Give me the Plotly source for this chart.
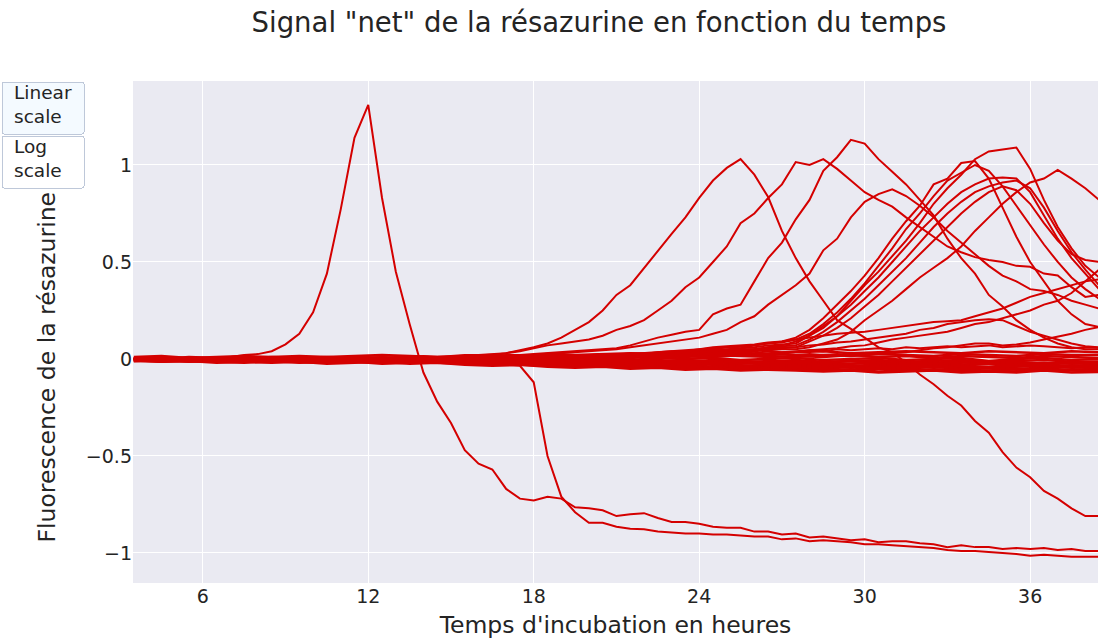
import plotly.graph_objects as go

# ---------------- time grids (hours) ----------------
TIME_FINE = [3.5, 4.0, 4.5, 5.0, 5.5, 6.0, 6.5, 7.0, 7.5, 8.0, 8.5, 9.0,
             9.5, 10.0, 10.5, 11.0, 11.5, 12.0, 12.5, 13.0, 13.5, 14.0, 14.5, 15.0,
             15.5, 16.0, 16.5, 17.0, 17.5, 18.0, 18.5, 19.0, 19.5, 20.0, 20.5, 21.0,
             21.5, 22.0, 22.5, 23.0, 23.5, 24.0, 24.5, 25.0, 25.5, 26.0, 26.5, 27.0,
             27.5, 28.0, 28.5, 29.0, 29.5, 30.0, 30.5, 31.0, 31.5, 32.0, 32.5, 33.0,
             33.5, 34.0, 34.5, 35.0, 35.5, 36.0, 36.5, 37.0, 37.5, 38.0, 38.5, 39.0]

TIME_COARSE = [3.5, 4.5, 5.5, 6.5, 7.5, 8.5, 9.5, 10.5, 11.5, 12.5, 13.5, 14.5,
               15.5, 16.5, 17.5, 18.5, 19.5, 20.5, 21.5, 22.5, 23.5, 24.5, 25.5, 26.5,
               27.5, 28.5, 29.5, 30.5, 31.5, 32.5, 33.5, 34.5, 35.5, 36.5, 37.5, 38.5,
               39.5]

# ---------------- wells with a visible signal (fine grid) ----------------
WELL_A = [0.0, 0.005, 0.0, -0.005, -0.005, 0.0, 0.005, 0.01, 0.02, 0.025, 0.04, 0.075,
          0.13, 0.24, 0.44, 0.77, 1.14, 1.31, 0.83, 0.45, 0.18, -0.07, -0.22, -0.33,
          -0.47, -0.54, -0.57, -0.67, -0.72, -0.73, -0.71, -0.72, -0.765, -0.77, -0.78, -0.81,
          -0.80, -0.795, -0.82, -0.84, -0.84, -0.85, -0.865, -0.87, -0.87, -0.89, -0.89, -0.905,
          -0.90, -0.92, -0.915, -0.925, -0.935, -0.93, -0.945, -0.94, -0.94, -0.95, -0.955, -0.97,
          -0.96, -0.97, -0.97, -0.98, -0.975, -0.98, -0.975, -0.985, -0.98, -0.99, -0.99, -0.99]

WELL_B = [0.0, -0.005, 0.0, 0.0, -0.01, -0.005, 0.0, -0.005, 0.0, -0.01, -0.005, 0.0,
          -0.005, -0.01, 0.0, -0.005, -0.01, 0.0, -0.005, -0.01, -0.005, -0.01, -0.015, -0.01,
          -0.015, -0.02, -0.02, -0.03, -0.035, -0.12, -0.50, -0.71, -0.79, -0.845, -0.845, -0.865,
          -0.875, -0.878, -0.89, -0.895, -0.90, -0.90, -0.905, -0.905, -0.91, -0.915, -0.915, -0.93,
          -0.925, -0.94, -0.935, -0.94, -0.945, -0.955, -0.955, -0.96, -0.965, -0.97, -0.975, -0.985,
          -0.99, -0.99, -0.995, -1.0, -1.005, -1.015, -1.01, -1.015, -1.02, -1.02, -1.02, -1.025]

WELL_C = [0.0, 0.0, -0.005, 0.005, 0.0, 0.0, -0.005, 0.0, 0.005, 0.0, 0.0, 0.005,
          0.0, 0.005, 0.0, 0.005, 0.01, 0.005, 0.01, 0.005, 0.01, 0.015, 0.01, 0.015,
          0.02, 0.02, 0.025, 0.03, 0.045, 0.06, 0.08, 0.11, 0.15, 0.19, 0.25, 0.33,
          0.38, 0.47, 0.56, 0.645, 0.73, 0.83, 0.92, 0.985, 1.03, 0.95, 0.835, 0.66,
          0.52, 0.40, 0.30, 0.20, 0.155, 0.11, 0.06, 0.035, -0.02, -0.08, -0.13, -0.19,
          -0.24, -0.32, -0.38, -0.48, -0.56, -0.61, -0.68, -0.72, -0.77, -0.81, -0.81, -0.82]

WELL_D = [0.0, 0.005, 0.0, 0.0, 0.005, -0.005, 0.0, 0.005, 0.0, 0.005, 0.0, 0.0,
          0.005, 0.0, 0.005, 0.01, 0.005, 0.0, 0.005, 0.01, 0.005, 0.01, 0.005, 0.01,
          0.01, 0.015, 0.02, 0.03, 0.04, 0.055, 0.07, 0.08, 0.09, 0.10, 0.12, 0.15,
          0.17, 0.20, 0.25, 0.30, 0.37, 0.42, 0.50, 0.58, 0.70, 0.75, 0.83, 0.90,
          1.015, 1.00, 1.03, 0.98, 0.92, 0.86, 0.82, 0.785, 0.73, 0.68, 0.63, 0.58,
          0.55, 0.525, 0.51, 0.50, 0.48, 0.475, 0.44, 0.43, 0.37, 0.32, 0.33, 0.31]

WELL_F = [0.0, 0.0, 0.005, 0.0, -0.005, 0.0, 0.005, 0.0, 0.0, 0.005, 0.0, 0.005,
          0.0, 0.005, 0.0, 0.005, 0.0, 0.005, 0.01, 0.005, 0.0, 0.01, 0.005, 0.01,
          0.01, 0.015, 0.01, 0.02, 0.02, 0.025, 0.03, 0.035, 0.04, 0.045, 0.05, 0.055,
          0.07, 0.09, 0.11, 0.125, 0.14, 0.15, 0.23, 0.26, 0.28, 0.40, 0.52, 0.60,
          0.72, 0.82, 0.97, 1.04, 1.13, 1.11, 1.03, 0.965, 0.90, 0.82, 0.74, 0.62,
          0.52, 0.44, 0.33, 0.27, 0.20, 0.15, 0.11, 0.08, 0.06, 0.05, 0.05, 0.04]

WELL_G = [0.005, 0.0, 0.0, 0.005, 0.0, 0.0, -0.005, 0.0, 0.005, 0.0, 0.005, 0.0,
          0.005, 0.0, 0.005, 0.0, 0.005, 0.01, 0.005, 0.0, 0.005, 0.01, 0.005, 0.01,
          0.0, 0.005, 0.01, 0.01, 0.015, 0.02, 0.025, 0.03, 0.035, 0.04, 0.045, 0.05,
          0.06, 0.07, 0.08, 0.09, 0.10, 0.11, 0.13, 0.15, 0.19, 0.22, 0.28, 0.33,
          0.38, 0.44, 0.56, 0.62, 0.73, 0.81, 0.85, 0.875, 0.84, 0.79, 0.73, 0.66,
          0.60, 0.54, 0.48, 0.43, 0.40, 0.36, 0.35, 0.33, 0.30, 0.28, 0.26, 0.25]

WELL_L1 = [0.0, 0.005, 0.0, -0.005, 0.0, 0.005, 0.0, 0.0, -0.005, 0.0, 0.005, 0.0,
           0.0, -0.005, 0.0, 0.005, 0.0, -0.005, 0.0, 0.005, 0.0, 0.0, 0.005, 0.0,
           0.005, 0.0, 0.005, 0.01, 0.005, 0.01, 0.015, 0.01, 0.015, 0.02, 0.015, 0.02,
           0.02, 0.025, 0.02, 0.03, 0.025, 0.035, 0.04, 0.035, 0.045, 0.05, 0.06, 0.07,
           0.09, 0.12, 0.17, 0.22, 0.30, 0.38, 0.45, 0.53, 0.61, 0.70, 0.80, 0.88,
           0.95, 1.03, 1.07, 1.08, 1.09, 0.98, 0.82, 0.68, 0.57, 0.48, 0.42, 0.38]

WELL_L2 = [0.005, 0.0, 0.0, 0.005, 0.0, -0.005, 0.0, 0.005, 0.0, 0.0, -0.005, 0.0,
           0.005, 0.0, 0.0, -0.005, 0.005, 0.0, 0.0, 0.005, 0.0, 0.005, 0.0, 0.005,
           0.0, 0.005, 0.01, 0.005, 0.01, 0.015, 0.01, 0.02, 0.015, 0.02, 0.025, 0.02,
           0.03, 0.025, 0.035, 0.04, 0.035, 0.045, 0.05, 0.06, 0.055, 0.07, 0.08, 0.09,
           0.11, 0.15, 0.21, 0.28, 0.35, 0.43, 0.52, 0.62, 0.71, 0.79, 0.90, 0.93,
           1.01, 1.02, 0.93, 0.78, 0.63, 0.50, 0.40, 0.30, 0.23, 0.18, 0.165, 0.15]

WELL_L3 = [0.0, -0.005, 0.0, 0.0, 0.005, 0.0, -0.005, 0.0, 0.005, 0.0, 0.0, -0.005,
           0.0, 0.005, 0.0, 0.0, -0.005, 0.0, 0.005, 0.0, -0.005, 0.005, 0.0, 0.005,
           0.005, 0.01, 0.005, 0.01, 0.015, 0.01, 0.015, 0.02, 0.015, 0.02, 0.02, 0.025,
           0.025, 0.03, 0.03, 0.035, 0.04, 0.04, 0.045, 0.05, 0.055, 0.06, 0.07, 0.075,
           0.08, 0.12, 0.16, 0.22, 0.28, 0.35, 0.42, 0.50, 0.58, 0.66, 0.73, 0.80,
           0.86, 0.90, 0.93, 0.935, 0.93, 0.86, 0.74, 0.62, 0.52, 0.44, 0.36, 0.31]

WELL_L4 = [-0.005, 0.0, 0.005, 0.0, -0.005, 0.0, 0.005, 0.0, -0.005, 0.0, 0.0, 0.005,
           0.0, -0.005, 0.0, 0.005, 0.0, 0.0, -0.005, 0.0, 0.005, 0.0, -0.005, 0.0,
           0.005, 0.0, 0.005, 0.01, 0.005, 0.01, 0.01, 0.015, 0.01, 0.015, 0.02, 0.015,
           0.02, 0.025, 0.03, 0.025, 0.035, 0.04, 0.035, 0.045, 0.05, 0.05, 0.06, 0.065,
           0.07, 0.10, 0.14, 0.19, 0.25, 0.31, 0.38, 0.45, 0.52, 0.60, 0.68, 0.75,
           0.81, 0.86, 0.89, 0.91, 0.92, 0.88, 0.78, 0.66, 0.55, 0.46, 0.38, 0.33]

WELL_L5 = [0.0, 0.0, 0.005, -0.005, 0.0, 0.005, 0.0, -0.005, 0.0, 0.005, 0.0, 0.0,
           -0.005, 0.0, 0.005, 0.0, 0.0, 0.005, 0.0, -0.005, 0.0, 0.005, 0.0, 0.005,
           0.0, 0.005, 0.0, 0.005, 0.01, 0.005, 0.01, 0.01, 0.015, 0.01, 0.015, 0.015,
           0.015, 0.02, 0.025, 0.03, 0.03, 0.035, 0.04, 0.04, 0.045, 0.05, 0.055, 0.06,
           0.06, 0.09, 0.12, 0.16, 0.21, 0.27, 0.33, 0.40, 0.47, 0.54, 0.61, 0.68,
           0.75, 0.81, 0.86, 0.89, 0.87, 0.80, 0.70, 0.61, 0.54, 0.51, 0.50, 0.49]

WELL_L6 = [0.005, 0.0, 0.0, 0.005, -0.005, 0.0, 0.0, 0.005, 0.0, -0.005, 0.0, 0.005,
           0.0, 0.0, 0.005, -0.005, 0.0, 0.005, 0.0, 0.0, 0.005, 0.0, 0.005, 0.01,
           0.005, 0.01, 0.005, 0.01, 0.015, 0.01, 0.015, 0.02, 0.02, 0.015, 0.02, 0.025,
           0.025, 0.03, 0.035, 0.04, 0.045, 0.05, 0.055, 0.06, 0.065, 0.07, 0.08, 0.085,
           0.10, 0.13, 0.18, 0.24, 0.31, 0.39, 0.48, 0.57, 0.67, 0.75, 0.84, 0.92,
           0.96, 1.00, 0.97, 0.89, 0.79, 0.69, 0.59, 0.50, 0.42, 0.36, 0.31, 0.28]

WELL_LL = [0.0, 0.005, -0.005, 0.0, 0.0, 0.005, 0.0, -0.005, 0.0, 0.0, 0.005, 0.0,
           0.005, 0.0, -0.005, 0.0, 0.005, 0.0, 0.0, 0.005, -0.005, 0.0, 0.005, 0.0,
           0.0, 0.005, 0.0, 0.005, 0.005, 0.01, 0.005, 0.01, 0.01, 0.005, 0.01, 0.01,
           0.01, 0.015, 0.02, 0.02, 0.025, 0.03, 0.03, 0.035, 0.04, 0.04, 0.045, 0.05,
           0.05, 0.06, 0.08, 0.10, 0.14, 0.20, 0.25, 0.30, 0.36, 0.42, 0.47, 0.52,
           0.58, 0.66, 0.73, 0.80, 0.86, 0.91, 0.93, 0.975, 0.93, 0.88, 0.82, 0.76]

WELL_M1 = [0.0, 0.0, 0.005, 0.0, -0.005, 0.0, 0.005, 0.0, 0.0, -0.005, 0.0, 0.005,
           0.0, 0.005, 0.0, -0.005, 0.0, 0.0, 0.005, 0.0, 0.0, 0.005, 0.0, 0.005,
           0.005, 0.0, 0.005, 0.005, 0.01, 0.005, 0.01, 0.005, 0.01, 0.01, 0.005, 0.01,
           0.01, 0.015, 0.01, 0.02, 0.015, 0.02, 0.025, 0.02, 0.025, 0.03, 0.03, 0.035,
           0.036, 0.045, 0.05, 0.055, 0.065, 0.07, 0.085, 0.10, 0.11, 0.12, 0.13, 0.14,
           0.16, 0.18, 0.19, 0.21, 0.23, 0.25, 0.28, 0.30, 0.34, 0.40, 0.46, 0.50]

WELL_M2 = [0.005, 0.0, 0.0, -0.005, 0.0, 0.005, 0.0, 0.0, 0.005, 0.0, -0.005, 0.0,
           0.005, 0.0, 0.0, 0.005, 0.0, -0.005, 0.0, 0.005, 0.0, 0.0, 0.005, 0.0,
           0.0, 0.005, 0.0, 0.005, 0.0, 0.005, 0.005, 0.0, 0.005, 0.01, 0.005, 0.005,
           0.005, 0.01, 0.005, 0.01, 0.015, 0.01, 0.015, 0.02, 0.015, 0.02, 0.02, 0.025,
           0.02, 0.025, 0.02, 0.025, 0.02, 0.025, 0.025, 0.03, 0.035, 0.045, 0.055, 0.06,
           0.07, 0.08, 0.08, 0.07, 0.075, 0.085, 0.10, 0.115, 0.13, 0.15, 0.165, 0.18]

WELL_M3 = [0.0, 0.005, 0.0, 0.0, 0.005, 0.0, -0.005, 0.0, 0.0, 0.005, 0.0, -0.005,
           0.0, 0.0, 0.005, 0.0, -0.005, 0.0, 0.0, 0.005, 0.0, -0.005, 0.0, 0.005,
           0.0, 0.0, 0.005, 0.0, 0.005, 0.005, 0.01, 0.005, 0.005, 0.01, 0.005, 0.01,
           0.01, 0.015, 0.02, 0.02, 0.025, 0.03, 0.035, 0.04, 0.04, 0.045, 0.05, 0.055,
           0.06, 0.07, 0.075, 0.085, 0.09, 0.10, 0.11, 0.12, 0.13, 0.15, 0.16, 0.18,
           0.19, 0.20, 0.205, 0.20, 0.17, 0.14, 0.12, 0.10, 0.08, 0.065, 0.06, 0.055]

WELL_M4 = [0.0, 0.0, 0.005, 0.0, 0.0, -0.005, 0.0, 0.005, 0.0, 0.0, 0.005, 0.0,
           -0.005, 0.0, 0.005, 0.0, 0.005, 0.0, 0.0, 0.005, 0.0, 0.005, 0.0, 0.005,
           0.005, 0.01, 0.005, 0.01, 0.01, 0.015, 0.01, 0.015, 0.015, 0.01, 0.015, 0.02,
           0.02, 0.025, 0.03, 0.035, 0.04, 0.05, 0.06, 0.065, 0.07, 0.075, 0.085, 0.09,
           0.10, 0.11, 0.12, 0.13, 0.135, 0.14, 0.15, 0.16, 0.17, 0.18, 0.19, 0.195,
           0.20, 0.22, 0.24, 0.26, 0.29, 0.32, 0.34, 0.36, 0.38, 0.40, 0.41, 0.42]

WELL_M5 = [0.0, -0.005, 0.0, 0.005, 0.0, 0.0, 0.005, 0.0, -0.005, 0.0, 0.005, 0.0,
           0.0, 0.005, 0.0, 0.0, 0.005, 0.0, -0.005, 0.0, 0.005, 0.0, 0.0, 0.005,
           0.0, 0.005, 0.005, 0.0, 0.005, 0.01, 0.005, 0.01, 0.005, 0.01, 0.01, 0.005,
           0.01, 0.015, 0.02, 0.015, 0.02, 0.025, 0.03, 0.025, 0.035, 0.03, 0.04, 0.035,
           0.04, 0.045, 0.04, 0.05, 0.045, 0.05, 0.055, 0.05, 0.06, 0.055, 0.06, 0.065,
           0.06, 0.065, 0.07, 0.06, 0.065, 0.07, 0.065, 0.06, 0.055, 0.06, 0.057, 0.06]

# ---------------- wells without growth (coarse grid) ----------------
FLAT_01 = [0.01, 0.015, 0.005, 0.01, 0.015, 0.01, 0.015, 0.01, 0.015, 0.02, 0.015, 0.01,
           0.015, 0.02, 0.015, 0.025, 0.02, 0.025, 0.03, 0.025, 0.035, 0.04, 0.03, 0.025,
           0.035, 0.04, 0.03, 0.035, 0.04, 0.035, 0.03, 0.04, 0.035, 0.03, 0.04, 0.035, 0.03]
FLAT_02 = [0.0, 0.005, 0.0, -0.005, 0.005, 0.0, 0.005, 0.01, 0.005, 0.0, 0.005, 0.01,
           0.005, 0.0, 0.01, 0.005, 0.015, 0.01, 0.005, 0.015, 0.01, 0.02, 0.015, 0.01,
           0.015, 0.01, 0.02, 0.01, 0.015, 0.005, 0.015, 0.01, 0.005, 0.015, 0.01, 0.005, 0.01]
FLAT_03 = [0.0, -0.005, 0.005, 0.0, -0.005, 0.0, 0.005, 0.0, -0.005, 0.005, 0.0, -0.005,
           0.0, 0.005, -0.005, 0.0, 0.005, 0.0, -0.005, 0.005, 0.0, 0.005, -0.005, 0.0,
           0.005, -0.005, 0.0, 0.005, -0.005, 0.0, 0.005, -0.01, 0.0, 0.005, -0.005, 0.0, 0.0]
FLAT_04 = [-0.005, 0.0, -0.005, -0.01, 0.0, -0.005, 0.0, -0.005, -0.01, 0.0, -0.005, -0.01,
           -0.005, 0.0, -0.01, -0.005, -0.01, 0.0, -0.01, -0.005, -0.015, -0.005, -0.01, -0.015,
           -0.005, -0.015, -0.01, -0.005, -0.015, -0.01, -0.005, -0.015, -0.01, -0.005, -0.015, -0.01, -0.01]
FLAT_05 = [0.005, 0.0, 0.005, 0.0, -0.005, 0.005, 0.0, -0.005, 0.0, 0.005, -0.005, 0.0,
           -0.005, -0.01, 0.0, -0.005, -0.01, -0.005, -0.015, -0.01, -0.005, -0.015, -0.02, -0.01,
           -0.015, -0.02, -0.01, -0.02, -0.015, -0.02, -0.01, -0.02, -0.015, -0.025, -0.015, -0.02, -0.015]
FLAT_06 = [0.0, 0.005, -0.005, 0.0, 0.005, -0.005, 0.0, 0.005, -0.005, -0.01, 0.0, -0.005,
           -0.01, -0.005, -0.015, -0.01, -0.005, -0.015, -0.01, -0.02, -0.015, -0.01, -0.02, -0.025,
           -0.015, -0.02, -0.025, -0.015, -0.02, -0.025, -0.02, -0.015, -0.025, -0.02, -0.025, -0.02, -0.02]
FLAT_07 = [-0.005, -0.01, 0.0, -0.005, -0.01, -0.005, -0.01, 0.0, -0.005, -0.01, -0.015, -0.005,
           -0.01, -0.015, -0.005, -0.015, -0.02, -0.01, -0.02, -0.015, -0.025, -0.02, -0.015, -0.025,
           -0.02, -0.03, -0.025, -0.02, -0.03, -0.025, -0.03, -0.02, -0.03, -0.025, -0.02, -0.03, -0.025]
FLAT_08 = [0.0, -0.005, -0.01, -0.005, 0.0, -0.01, -0.005, -0.01, -0.015, -0.005, -0.01, -0.015,
           -0.01, -0.02, -0.015, -0.01, -0.02, -0.025, -0.015, -0.025, -0.02, -0.03, -0.025, -0.02,
           -0.03, -0.025, -0.035, -0.03, -0.025, -0.035, -0.03, -0.025, -0.035, -0.03, -0.035, -0.03, -0.03]
FLAT_09 = [-0.005, 0.0, -0.005, -0.01, -0.005, -0.01, -0.015, -0.005, -0.01, -0.015, -0.01, -0.005,
           -0.015, -0.01, -0.02, -0.015, -0.025, -0.02, -0.03, -0.025, -0.02, -0.03, -0.035, -0.03,
           -0.035, -0.03, -0.04, -0.035, -0.03, -0.04, -0.035, -0.04, -0.03, -0.04, -0.035, -0.04, -0.035]
FLAT_10 = [-0.01, -0.005, -0.01, -0.005, -0.01, -0.015, -0.01, -0.005, -0.015, -0.01, -0.015, -0.02,
           -0.015, -0.02, -0.015, -0.025, -0.02, -0.03, -0.025, -0.035, -0.03, -0.025, -0.035, -0.04,
           -0.035, -0.04, -0.045, -0.04, -0.035, -0.045, -0.04, -0.045, -0.04, -0.035, -0.045, -0.04, -0.04]
FLAT_11 = [0.0, -0.005, -0.01, -0.015, -0.01, -0.005, -0.015, -0.01, -0.015, -0.02, -0.015, -0.01,
           -0.02, -0.025, -0.02, -0.03, -0.025, -0.02, -0.03, -0.035, -0.03, -0.04, -0.035, -0.045,
           -0.04, -0.045, -0.04, -0.05, -0.045, -0.04, -0.05, -0.045, -0.05, -0.045, -0.04, -0.05, -0.045]
FLAT_12 = [-0.005, -0.01, -0.005, -0.015, -0.01, -0.015, -0.01, -0.02, -0.015, -0.01, -0.02, -0.015,
           -0.02, -0.025, -0.03, -0.025, -0.035, -0.03, -0.04, -0.035, -0.04, -0.045, -0.04, -0.05,
           -0.045, -0.05, -0.055, -0.045, -0.05, -0.055, -0.05, -0.045, -0.055, -0.05, -0.055, -0.05, -0.05]
FLAT_13 = [-0.01, -0.005, -0.015, -0.01, -0.015, -0.01, -0.02, -0.015, -0.01, -0.02, -0.015, -0.02,
           -0.025, -0.02, -0.03, -0.035, -0.03, -0.04, -0.035, -0.045, -0.04, -0.05, -0.045, -0.055,
           -0.05, -0.055, -0.06, -0.05, -0.055, -0.06, -0.055, -0.06, -0.05, -0.06, -0.055, -0.06, -0.055]
FLAT_14 = [-0.005, -0.015, -0.01, -0.015, -0.02, -0.01, -0.015, -0.02, -0.015, -0.025, -0.02, -0.015,
           -0.025, -0.03, -0.025, -0.035, -0.04, -0.035, -0.045, -0.04, -0.05, -0.045, -0.055, -0.05,
           -0.055, -0.06, -0.055, -0.065, -0.06, -0.055, -0.065, -0.06, -0.065, -0.055, -0.06, -0.065, -0.06]
FLAT_15 = [0.005, 0.0, 0.01, 0.005, 0.0, 0.01, 0.005, 0.0, 0.01, 0.005, 0.01, 0.0,
           0.01, 0.005, 0.015, 0.01, 0.005, 0.015, 0.02, 0.01, 0.015, 0.01, 0.02, 0.015,
           0.01, 0.02, 0.015, 0.025, 0.02, 0.015, 0.025, 0.02, 0.015, 0.025, 0.02, 0.02, 0.02]
FLAT_16 = [-0.01, -0.015, -0.01, -0.02, -0.015, -0.02, -0.015, -0.025, -0.02, -0.015, -0.025, -0.02,
           -0.03, -0.035, -0.03, -0.04, -0.045, -0.04, -0.05, -0.045, -0.055, -0.05, -0.06, -0.055,
           -0.06, -0.065, -0.06, -0.07, -0.065, -0.06, -0.07, -0.065, -0.07, -0.06, -0.07, -0.065, -0.065]

FLAT_WELLS = [FLAT_01, FLAT_02, FLAT_03, FLAT_04, FLAT_05, FLAT_06, FLAT_07, FLAT_08,
              FLAT_09, FLAT_10, FLAT_11, FLAT_12, FLAT_13, FLAT_14, FLAT_15, FLAT_16]
SIGNAL_WELLS = [WELL_M1, WELL_M2, WELL_M3, WELL_M4, WELL_M5,
                WELL_A, WELL_B, WELL_C, WELL_D, WELL_F, WELL_G,
                WELL_L1, WELL_L2, WELL_L3, WELL_L4, WELL_L5, WELL_L6, WELL_LL]

LINE_COLOR = "rgb(212,0,0)"
FONT = "DejaVu Sans, Verdana, sans-serif"
TEXT_COLOR = "rgb(36,36,36)"

fig = go.Figure()
for values in FLAT_WELLS:
    fig.add_trace(go.Scatter(x=TIME_COARSE, y=values, mode="lines",
                             line=dict(color=LINE_COLOR, width=2.5), showlegend=False))
for values in SIGNAL_WELLS:
    fig.add_trace(go.Scatter(x=TIME_FINE, y=values, mode="lines",
                             line=dict(color=LINE_COLOR, width=2), showlegend=False))

W, H = 1098, 639
ML, MR, MT, MB = 133, 0, 81, 56
PW, PH = W - ML - MR, H - MT - MB

fig.update_layout(
    width=W, height=H,
    margin=dict(l=ML, r=MR, t=MT, b=MB),
    paper_bgcolor="white",
    plot_bgcolor="rgb(234,234,242)",
    font=dict(family=FONT, size=19, color=TEXT_COLOR),
    showlegend=False,
    title=dict(text='Signal "net" de la résazurine en fonction du temps',
               xref="container", x=599 / W, xanchor="center",
               yref="container", y=1 - 22 / H, yanchor="middle",
               font=dict(size=27.5, family=FONT, color=TEXT_COLOR)),
    xaxis=dict(title=dict(text="Temps d'incubation en heures", font=dict(size=23.5)),
               range=[3.47, 38.46], tick0=0, dtick=6, showgrid=True, gridcolor="white",
               gridwidth=1, zeroline=False, showline=False, ticks="", automargin=False,
               tickfont=dict(size=19)),
    yaxis=dict(range=[-1.155, 1.433], tick0=0, dtick=0.5, showgrid=True, gridcolor="white",
               gridwidth=1, zeroline=True, zerolinecolor="white", showline=False, ticks="",
               automargin=False, tickfont=dict(size=19)),
    updatemenus=[dict(
        type="buttons", direction="down", showactive=True, active=0,
        x=(1 - ML) / PW, xanchor="left", y=1.0, yanchor="top",
        pad=dict(t=0, b=0, l=0, r=0),
        bgcolor="white", bordercolor="#BEC8D9", borderwidth=1,
        font=dict(size=18.5, family=FONT, color=TEXT_COLOR),
        buttons=[
            dict(label="Linear<br>scale", method="relayout", args=[{"yaxis.type": "linear"}]),
            dict(label="Log<br>scale", method="relayout", args=[{"yaxis.type": "log"}]),
        ],
    )],
    annotations=[dict(text="Fluorescence de la résazurine", textangle=-90,
                      xref="paper", yref="paper", x=(47 - ML) / PW, y=(583 - 367.5) / PH,
                      xanchor="center", yanchor="middle", showarrow=False,
                      font=dict(size=23.5, family=FONT, color=TEXT_COLOR))],
)

fig.write_html("out.html",
               config={"displayModeBar": False},
               post_script="document.body.style.margin='0px';document.body.style.overflow='hidden';")
